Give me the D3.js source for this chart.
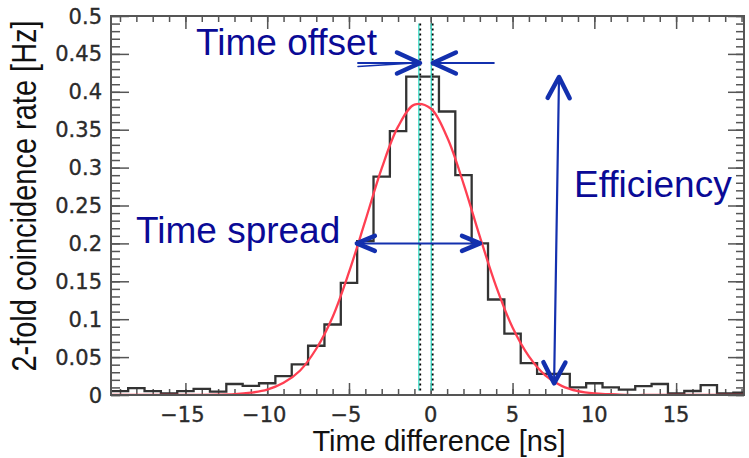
<!DOCTYPE html>
<html><head><meta charset="utf-8">
<script src="https://cdn.jsdelivr.net/npm/d3@7"></script>
<style>body{margin:0;background:#fff} svg{display:block}</style>
</head><body>
<svg id="c" width="749" height="458"></svg>
<script>
// ---- data ----
const binCenters = [-19,-18,-17,-16,-15,-14,-13,-12,-11,-10,-9,-8,-7,-6,-5,-4,-3,-2,-1,0,1,2,3,4,5,6,7,8,9,10,11,12,13,14,15,16,17,18,19];
const rates = [0.005,0.009,0.005,0.002,0.005,0.008,0.0045,0.0145,0.012,0.0155,0.025,0.0405,0.065,0.093,0.148,0.203,0.288,0.348,0.420,0.420,0.374,0.290,0.200,0.126,0.081,0.042,0.028,0.028,0.010,0.0155,0.010,0.0072,0.0117,0.0145,0.0022,0.0053,0.013,0.0022,0.003];
const fitX = [-19.5,-18,-17,-16,-15,-14,-13,-12,-11,-10,-9,-8,-7,-6,-5,-4,-3,-2,-1,0,1,2,3,4,5,6,7,8,9,10,11,12,13,14,15,16,17,18,19.5];
const fitY = [0,0,0,0,0,0,0.0003,0.001,0.003,0.007,0.016,0.032,0.061,0.103,0.162,0.230,0.299,0.354,0.383,0.378,0.340,0.279,0.209,0.143,0.089,0.051,0.026,0.012,0.005,0.002,0.001,0,0,0,0,0,0,0,0];
const xTickValues = [-15,-10,-5,0,5,10,15];
const xTickLabels = ["\u221215","\u221210","\u22125","0","5","10","15"];
const yTickValues = [0,0.05,0.1,0.15,0.2,0.25,0.3,0.35,0.4,0.45,0.5];
const yTickLabels = ["0","0.05","0.1","0.15","0.2","0.25","0.3","0.35","0.4","0.45","0.5"];
const offsetMarks = [-0.68, 0.08];      // vertical marker lines [ns]
const offsetArrowY = 0.438;
const offsetArrowLeft = [-4.45, -0.66];
const offsetArrowRight = [3.86, 0.13];
const spreadArrow = {y: 0.2, x1: -4.52, x2: 3.01};
const effArrow = {xTop: 7.84, yTop: 0.4195, xBot: 7.54, yBot: 0.0154};

// ---- layout ----
const svg = d3.select("#c");
const L = 111, R = 744, T = 16, B = 395;
const x = d3.scaleLinear().domain([-19.55, 19.15]).range([L, R]);
const y = d3.scaleLinear().domain([0, 0.5]).range([B, T]);

svg.append("rect").attr("width",749).attr("height",458).attr("fill","#fff");
svg.append("clipPath").attr("id","pc").append("rect")
  .attr("x",L).attr("y",T).attr("width",R-L).attr("height",B-T);

const axColor = "#555";
function styleAxis(g){
  g.select(".domain").remove();
  g.selectAll("line").attr("stroke",axColor).attr("stroke-width",1.5);
  g.selectAll("text").remove();
}
const yMinor = d3.range(0, 51).map(i => i/100);
const xMinor = d3.range(-19, 20);
// left
svg.append("g").attr("transform",`translate(${L},0)`).call(d3.axisLeft(y).tickValues(yMinor).tickSize(-9)).call(styleAxis);
svg.append("g").attr("transform",`translate(${L},0)`).call(d3.axisLeft(y).tickValues(yTickValues).tickSize(-18)).call(styleAxis);
// right
svg.append("g").attr("transform",`translate(${R},0)`).call(d3.axisRight(y).tickValues(yMinor).tickSize(-8)).call(styleAxis);
svg.append("g").attr("transform",`translate(${R},0)`).call(d3.axisRight(y).tickValues(yTickValues).tickSize(-16)).call(styleAxis);
// bottom
svg.append("g").attr("transform",`translate(0,${B})`).call(d3.axisBottom(x).tickValues(xMinor).tickSize(-6)).call(styleAxis);
svg.append("g").attr("transform",`translate(0,${B})`).call(d3.axisBottom(x).tickValues(xTickValues).tickSize(-12)).call(styleAxis);
// top
svg.append("g").attr("transform",`translate(0,${T})`).call(d3.axisTop(x).tickValues(xMinor).tickSize(-6)).call(styleAxis);
svg.append("g").attr("transform",`translate(0,${T})`).call(d3.axisTop(x).tickValues(xTickValues).tickSize(-13)).call(styleAxis);

// tick labels
svg.append("g").selectAll("text").data(yTickValues).join("text")
  .attr("x", 102).attr("y", d => y(d) + 7.5)
  .attr("text-anchor","end").attr("font-family","DejaVu Sans").attr("font-size",21)
  .attr("fill","#2b2b2b").attr("stroke","#2b2b2b").attr("stroke-width",0.35)
  .text((d,i) => yTickLabels[i]);
svg.append("g").selectAll("text").data(xTickValues).join("text")
  .attr("x", d => x(d) - (d<0?3:0)).attr("y", 421.5)
  .attr("text-anchor","middle").attr("font-family","DejaVu Sans").attr("font-size",21)
  .attr("fill","#2b2b2b").attr("stroke","#2b2b2b").attr("stroke-width",0.35)
  .text((d,i) => xTickLabels[i]);

// axis titles
svg.append("text").attr("x",439).attr("y",451).attr("text-anchor","middle")
  .attr("font-family","Liberation Sans, Arial, sans-serif").attr("font-size",29).attr("fill","#111")
  .text("Time difference [ns]");
svg.append("text").attr("transform","translate(36,196) scale(1.2,1) rotate(-90)")
  .attr("text-anchor","middle")
  .attr("font-family","Liberation Sans, Arial, sans-serif").attr("font-size",29).attr("fill","#111")
  .text("2-fold coincidence rate [Hz]");

// plot content
const plot = svg.append("g").attr("clip-path","url(#pc)");

// histogram
const histPts = binCenters.map((c,i) => [c-0.5, rates[i]]);
histPts.push([binCenters[binCenters.length-1]+0.5, rates[rates.length-1]]);
plot.append("path")
  .attr("d", d3.line().x(d=>x(d[0])).y(d=>y(d[1])).curve(d3.curveStepAfter)(histPts))
  .attr("fill","none").attr("stroke","#333").attr("stroke-width",2.3);

// offset marker lines
offsetMarks.forEach((m,i) => {
  plot.append("line").attr("x1",x(m)-0.8).attr("x2",x(m)-0.8).attr("y1",y(0.49)).attr("y2",y(0.006))
    .attr("stroke","#3fdcc8").attr("stroke-width",1.4);
  plot.append("line").attr("x1",x(m)+0.6).attr("x2",x(m)+0.6).attr("y1",y(0.49)).attr("y2",y(0.006))
    .attr("stroke","#000").attr("stroke-width",1.8).attr("stroke-dasharray","2,3");
});

// fit curve
plot.append("path")
  .attr("d", d3.line().x((d,i)=>x(fitX[i])).y(d=>y(d)).curve(d3.curveCatmullRom)(fitY))
  .attr("fill","none").attr("stroke","#ff3f52").attr("stroke-width",2.3);

// annotations
const arrowCol = "#1330ae", textCol = "#0a0a96";
const ann = svg.append("g");
function shaft(x1,y1,x2,y2,w){
  ann.append("line").attr("x1",x1).attr("y1",y1).attr("x2",x2).attr("y2",y2)
    .attr("stroke",arrowCol).attr("stroke-width",w).attr("stroke-linecap","round");
}
function head(tx,ty,fx,fy,len,half){
  const dx=tx-fx, dy=ty-fy, n=Math.hypot(dx,dy), ux=dx/n, uy=dy/n;
  const bx=tx-ux*len, by=ty-uy*len;
  const pts=[[bx-uy*half, by+ux*half],[tx,ty],[bx+uy*half, by-ux*half]];
  ann.append("path").attr("d", d3.line()(pts)).attr("fill","none")
    .attr("stroke",arrowCol).attr("stroke-width",4.5).attr("stroke-linecap","round").attr("stroke-linejoin","round");
}
// time offset
const oy = y(offsetArrowY);
shaft(x(offsetArrowLeft[0]), oy, x(offsetArrowLeft[1]), oy, 1.8);
shaft(x(offsetArrowLeft[0]), oy+3.5, x(offsetArrowLeft[1])-6, oy, 1.5);
head(x(offsetArrowLeft[1]), oy, x(offsetArrowLeft[0]), oy, 23, 10.5);
shaft(x(offsetArrowRight[0]), oy, x(offsetArrowRight[1]), oy, 1.8);
head(x(offsetArrowRight[1]), oy, x(offsetArrowRight[0]), oy, 23, 10.5);
// time spread
const sy = y(spreadArrow.y);
shaft(x(spreadArrow.x1), sy, x(spreadArrow.x2), sy, 2);
head(x(spreadArrow.x1), sy, x(spreadArrow.x2), sy, 18, 7.5);
head(x(spreadArrow.x2), sy, x(spreadArrow.x1), sy, 18, 7.5);
// efficiency
shaft(x(effArrow.xTop), y(effArrow.yTop), x(effArrow.xBot), y(effArrow.yBot), 2.2);
head(x(effArrow.xTop), y(effArrow.yTop), x(effArrow.xBot), y(effArrow.yBot), 21, 11);
head(x(effArrow.xBot), y(effArrow.yBot), x(effArrow.xTop), y(effArrow.yTop), 21, 11);

const tf = "Liberation Sans, Arial, sans-serif";
ann.append("text").attr("x",196).attr("y",55).attr("font-family",tf).attr("font-size",37).attr("fill",textCol).text("Time offset");
ann.append("text").attr("x",136).attr("y",243).attr("font-family",tf).attr("font-size",37).attr("fill",textCol).text("Time spread");
ann.append("text").attr("x",574).attr("y",197).attr("font-family",tf).attr("font-size",37).attr("fill",textCol).text("Efficiency");

// frame
svg.append("rect").attr("x",L).attr("y",T).attr("width",R-L).attr("height",B-T)
  .attr("fill","none").attr("stroke","#555").attr("stroke-width",2);
</script>
</body></html>
